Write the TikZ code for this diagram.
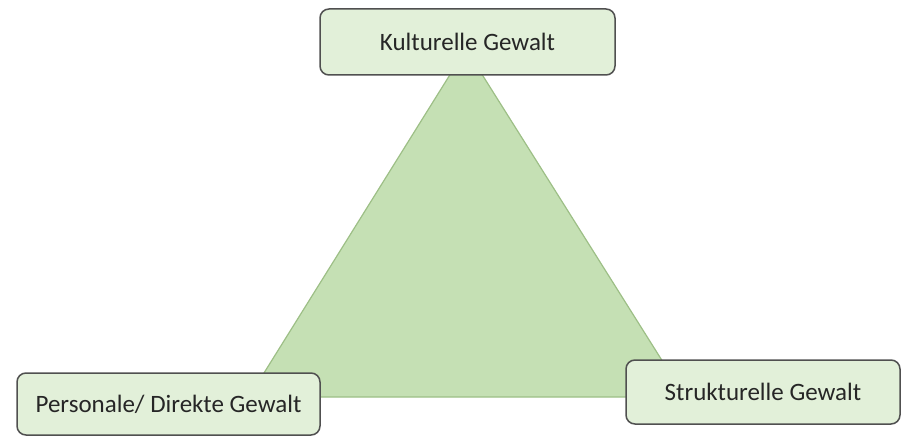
\documentclass[tikz,border=0pt]{standalone}
\usepackage{fontspec}
\setmainfont{Carlito}

\definecolor{boxgreen}{HTML}{E2F0D9}
\definecolor{trigreen}{HTML}{C5E0B4}
\definecolor{triedge}{HTML}{9DBF86}
\definecolor{boxline}{HTML}{505050}
\definecolor{schrift}{HTML}{262626}

\tikzset{gewalt/.style={draw=boxline, line width=1.5pt, fill=boxgreen,
    rounded corners=9pt, inner sep=0pt, text=schrift, font=\fontsize{25}{30}\selectfont}}

\begin{document}
\begin{tikzpicture}[x=1pt,y=-1pt]
    \useasboundingbox (0,0) rectangle (903,436);
    % Dreieck
    \coordinate (spitze) at (466,49);
    \coordinate (links)  at (249,397);
    \coordinate (rechts) at (685,397);
    \draw[triedge, fill=trigreen, line width=1.2pt] (spitze) -- (links) -- (rechts) -- cycle;

    % Ecken
    \node[gewalt, minimum width=295pt, minimum height=66pt] (kultur) at (467.5,42) {Kulturelle Gewalt};
    \node[gewalt, minimum width=303pt, minimum height=62pt] (direkt) at (168.5,404) {Personale/ Direkte Gewalt};
    \node[gewalt, minimum width=274pt, minimum height=64pt] (struktur) at (763,392) {Strukturelle Gewalt};

\end{tikzpicture}
\end{document}
